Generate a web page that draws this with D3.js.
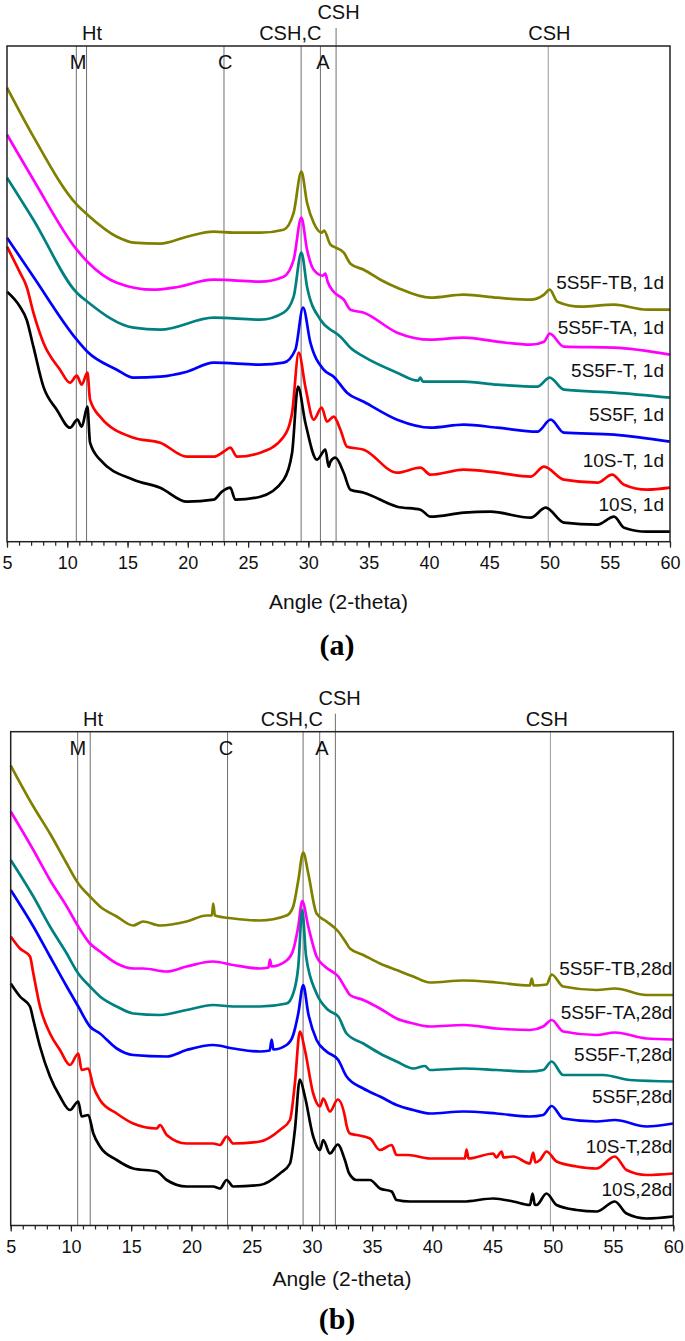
<!DOCTYPE html>
<html><head><meta charset="utf-8">
<script src="https://cdn.jsdelivr.net/npm/d3@7"></script>
<style>body{margin:0;background:#fff}svg text{font-family:"Liberation Sans",Arial,sans-serif}</style>
</head><body>
<svg id="chart" width="685" height="1341"></svg>
<script>
// ---------------- DATA ----------------
const xTicksMajor = [5,10,15,20,25,30,35,40,45,50,55,60];
const xTicksMinor = d3.range(5, 61, 1);
const xTitle = "Angle (2-theta)";
const seriesColors = ["#000000","#ff0000","#0000ff","#008080","#ff00ff","#808000"];
const namesA = ["10S, 1d","10S-T, 1d","5S5F, 1d","5S5F-T, 1d","5S5F-TA, 1d","5S5F-TB, 1d"];
const namesB = ["10S,28d","10S-T,28d","5S5F,28d","5S5F-T,28d","5S5F-TA,28d","5S5F-TB,28d"];
const phaseNames = ["M","Ht","C","CSH,C","A","CSH","CSH"];
const phaseLinesA = [10.75,11.6,23.0,29.4,31.0,32.3,49.9];
const phaseLinesB = [10.56,11.6,23.0,29.27,30.65,31.95,49.8];
const phaseLabelXA = [10.9,12.06,23.1,28.5,31.2,32.5,50.0];
const phaseLabelXB = [10.58,11.83,22.87,28.34,30.84,32.3,49.5];
const phaseRow = ["in","mid","in","mid","in","top","mid"];

// Panel (a): 1 day, intensity (a.u.)
const a_10S = [[5,250],[6.08,235],[6.63,222],[7.19,195],[8.02,155],[9.13,132],[10.23,114],[10.84,122],[11.2,115],[11.67,135],[11.89,99],[12.72,82],[15.49,62],[17.71,54],[19.93,40],[22.14,42],[22.83,50],[23.52,54],[23.94,42],[26.01,45],[27.95,62],[28.65,89],[29.14,155],[29.75,119],[30.72,82],[31.41,92],[31.69,75],[31.83,80],[32.24,84],[32.93,69],[33.49,52],[34.6,49],[37.37,35],[39.3,32],[40.14,25],[42.9,29],[45.1,30],[48.44,24],[49.69,34],[51.2,19],[53.98,17],[55.36,25],[56.19,14],[58.1,10],[60,10]];
const a_10ST = [[5,295],[6.08,269],[6.63,255],[7.19,229],[8.02,199],[9.4,172],[10.23,159],[10.79,166],[11.2,157],[11.67,169],[11.89,142],[12.72,125],[15.49,104],[17.71,99],[19.93,85],[22.14,85],[22.97,90],[23.52,94],[24.08,85],[26.01,89],[27.95,105],[28.65,129],[29.2,189],[29.75,155],[30.44,122],[31.1,134],[31.55,120],[32.1,125],[32.66,112],[33.21,95],[34.6,92],[37.37,69],[39.3,74],[40.14,67],[42.9,72],[45.67,69],[48.44,65],[49.55,75],[51.2,62],[53.98,59],[55.2,67],[56.19,57],[58.1,52],[60,54]];
const a_5S5F = [[5,304],[7.19,265],[10.79,202],[11.67,190],[14.11,172],[15.49,164],[17.71,165],[19.93,170],[22.14,179],[26.01,177],[27.95,179],[28.92,192],[29.56,234],[30.17,199],[31.27,172],[32.1,165],[33.21,149],[34.6,140],[37.37,122],[40.14,114],[42.9,117],[45.67,114],[49.0,110],[50.1,122],[51.2,109],[55.36,107],[60,100]];
const a_5S5FT = [[5,364],[7.19,322],[10.79,249],[11.67,240],[15.49,214],[17.71,212],[22.14,224],[26.01,222],[27.95,229],[28.78,245],[29.42,289],[29.89,255],[31.0,222],[31.83,212],[32.1,210],[32.66,205],[33.49,194],[34.6,185],[37.37,169],[39.1,161],[39.3,164],[39.5,160],[42.9,160],[45.67,157],[49.0,155],[50.02,164],[51.2,152],[55.36,149],[60,144]];
const a_5S5FTA = [[5,407],[7.19,362],[10.79,292],[11.67,280],[14.11,259],[17.15,252],[18.81,254],[22.14,262],[26.01,260],[27.95,265],[28.78,282],[29.42,324],[29.89,292],[30.44,272],[31.2,266],[31.41,268],[31.6,260],[32.1,250],[32.94,242],[33.49,232],[34.6,229],[37.37,209],[40.14,202],[42.9,204],[45.67,200],[48.44,197],[49.55,200],[50.02,208],[51.2,195],[55.36,194],[60,187]];
const a_5S5FTB = [[5,454],[7.19,405],[10.79,337],[11.67,327],[14.11,305],[15.49,299],[17.71,298],[19.93,305],[22.14,310],[23.8,309],[26.01,309],[27.95,312],[28.78,329],[29.42,370],[29.89,339],[30.44,319],[31.1,309],[31.3,311],[31.83,297],[32.1,295],[32.94,289],[33.49,278],[34.6,272],[35.98,262],[37.37,254],[40.14,244],[42.9,247],[45.67,244],[48.44,242],[49.55,247],[50.02,252],[50.66,240],[52.6,235],[55.36,237],[58.1,232],[60,232]];

// Panel (b): 28 days, intensity (a.u.)
const b_10S = [[5,242],[5.77,229],[6.6,219],[6.88,205.5],[7.43,179],[8.26,149],[9.09,129],[9.92,115.5],[10.61,124],[10.89,109],[11.44,110.5],[11.86,92],[12.41,79],[13.8,65.5],[15.17,57],[17.12,54],[17.95,45.5],[19.6,39],[21.81,39],[22.37,37],[22.93,45.5],[23.47,39],[25.69,40.5],[27.35,52],[28.18,62],[28.59,95.5],[29.0,146],[29.42,129],[30.11,89],[30.67,75.5],[30.94,85.5],[31.5,72],[32.15,81],[32.74,65.5],[33.1,52],[33.71,45.5],[34.82,45.5],[35.65,37],[36.62,34],[37.03,25.5],[38.14,24],[39.8,24],[42.57,24],[45.06,27],[46.71,24],[48.1,20.5],[48.32,32],[48.5,21],[48.65,20.5],[49.48,32],[50.31,20.5],[51.97,15.5],[53.63,14],[55.15,24],[56.12,12],[57.78,7],[60,9]];
const b_10ST = [[5,289],[5.77,277],[6.6,269],[6.88,252],[7.43,219],[8.26,192],[9.09,175.5],[9.92,160.5],[10.61,172],[10.89,155.5],[11.44,157],[11.86,139],[12.41,125.5],[13.8,112],[15.17,102],[17.12,97],[17.39,100.5],[17.95,90.5],[19.6,82],[21.81,82],[22.37,80.5],[22.93,89],[23.47,82],[25.69,84],[27.35,95.5],[28.18,105.5],[28.59,142],[29.0,194],[29.42,175.5],[30.11,132],[30.67,119],[30.94,127],[31.5,114],[32.15,126],[32.74,109],[32.88,100],[33.16,92],[33.71,90.5],[34.82,87],[35.65,75.5],[36.62,80.5],[37.03,70.5],[38.0,70.5],[39.8,67],[42.7,67],[42.84,76],[43.0,67],[45.06,72],[45.3,68],[45.75,74],[45.9,68],[46.71,69],[48.1,62],[48.37,73],[48.55,63],[48.93,65.5],[49.48,74],[50.31,64],[51.97,59],[53.63,57],[55.15,69],[56.12,55.5],[57.78,50.5],[60,52]];
const b_5S5F = [[5,335.5],[6.88,299],[8.26,269],[9.65,239],[10.61,219],[11.58,199],[12.41,192],[13.8,177],[15.17,170.5],[17.95,169],[19.6,175.5],[21.81,180.5],[23.47,177],[25.69,174],[26.5,175],[26.66,186],[26.8,176],[27.9,180.5],[28.45,190.5],[28.87,212],[29.28,240.5],[29.7,212],[30.39,185.5],[31.22,174],[32.19,165.5],[32.88,149],[34.27,137],[35.65,129],[37.03,120.5],[38.42,115.5],[39.8,112],[42.57,114],[45.33,112],[48.1,109],[49.2,110.5],[49.9,119.5],[50.86,107],[53.63,104],[55.15,105.5],[57.78,99],[60,102]];
const b_5S5FT = [[5,365.5],[6.88,329],[8.26,299],[9.65,272],[10.61,252],[11.58,239],[12.41,229],[13.8,219],[15.17,212],[17.39,210.5],[19.6,215.5],[21.81,220.5],[23.47,219],[25.69,219],[27.9,222],[28.45,232],[28.87,259],[29.2,315.5],[29.52,269],[30.39,232],[31.36,215.5],[32.19,209],[32.88,192],[34.27,182],[35.65,172],[37.03,164],[38.42,157],[39.38,159.5],[39.8,155.5],[42.57,157],[45.33,155.5],[48.1,154],[49.2,155.5],[49.9,164],[50.86,150.5],[54.18,150.5],[56.4,145.5],[60,144]];
const b_5S5FTA = [[5,414],[6.88,375.5],[8.26,345.5],[9.65,319],[10.61,299],[11.58,282],[12.41,274],[13.8,262],[15.17,257],[16.0,257],[17.95,254],[19.6,259],[21.81,264],[23.47,260.5],[25.69,257],[26.4,258],[26.52,266],[26.65,259],[27.9,265],[28.45,275.5],[28.87,299],[29.2,324.5],[29.7,299],[30.39,269],[31.08,259],[32.19,249],[32.88,235.5],[33.16,230.5],[34.27,225.5],[35.65,217],[37.03,207],[38.42,202],[39.8,199],[42.57,200.5],[45.33,197],[48.1,195.5],[49.2,199],[49.9,205.5],[50.86,194],[53.63,190.5],[55.15,193],[57.78,187],[60,186]];
const b_5S5FTB = [[5,460],[6.88,419],[8.26,392],[9.65,362],[10.61,342],[11.58,329],[12.41,319],[13.8,309],[15.17,300],[16.0,304],[17.39,300],[19.6,304],[21.26,310],[21.7,310],[21.81,322],[21.95,310],[23.47,307],[25.69,305],[27.9,310],[28.45,319],[28.87,345],[29.28,373],[29.7,352],[30.39,312],[31.22,304],[32.19,294],[32.88,282],[33.16,277],[34.27,270.5],[35.65,262],[37.03,255.5],[38.42,249],[39.8,243],[42.57,245],[45.33,243],[48.1,240],[48.25,247],[48.4,240],[49.48,241],[49.9,251],[50.86,239],[53.63,235.5],[55.15,237],[57.78,230.5],[60,230.5]];

const seriesA = [a_10S, a_10ST, a_5S5F, a_5S5FT, a_5S5FTA, a_5S5FTB];
const seriesB = [b_10S, b_10ST, b_5S5F, b_5S5FT, b_5S5FTA, b_5S5FTB];

// ---------------- DRAW ----------------
const svg = d3.select("#chart");

function drawPanel(cfg){
  const g = svg.append("g");
  const x = d3.scaleLinear().domain([5,60]).range([cfg.left, cfg.right]);
  const y = d3.scaleLinear().domain([0, cfg.yMax]).range([cfg.bottom, cfg.top]);

  // phase reference lines
  cfg.lines.forEach((v,i)=>{
    const ext = phaseRow[i]==="top" ? 18 : 0;
    g.append("line").attr("x1",x(v)).attr("x2",x(v))
      .attr("y1",cfg.bottom).attr("y2",cfg.top-ext)
      .attr("stroke", i===6 ? "#9a9a9a" : "#6e6e6e").attr("stroke-width",1);
  });

  // traces (top first so lower ones on top)
  const line = d3.line().x(d=>x(d[0])).y(d=>y(d[1])).curve(d3.curveMonotoneX);
  for(let i=cfg.series.length-1;i>=0;i--){
    g.append("path").datum(cfg.series[i]).attr("d",line)
      .attr("fill","none").attr("stroke",seriesColors[i])
      .attr("stroke-width",2.7).attr("stroke-linejoin","round");
  }

  // frame
  g.append("rect").attr("x",cfg.left).attr("y",cfg.top)
    .attr("width",cfg.right-cfg.left).attr("height",cfg.bottom-cfg.top)
    .attr("fill","none").attr("stroke","#222").attr("stroke-width",1.5);

  // axis
  const minor = g.append("g").attr("transform",`translate(0,${cfg.bottom})`)
    .call(d3.axisBottom(x).tickValues(xTicksMinor).tickSize(4).tickFormat(""));
  minor.select(".domain").remove();
  minor.selectAll("line").attr("stroke","#222").attr("stroke-width",1.2);
  const major = g.append("g").attr("transform",`translate(0,${cfg.bottom})`)
    .call(d3.axisBottom(x).tickValues(xTicksMajor).tickSize(6).tickPadding(9).tickFormat(d3.format("d")));
  major.select(".domain").remove();
  major.selectAll("line").attr("stroke","#222").attr("stroke-width",1.2);
  major.selectAll("text").attr("font-size",18).attr("fill","#111")
    .attr("font-family","'Liberation Sans',Arial,sans-serif");

  // axis title
  g.append("text").attr("x",(cfg.left+cfg.right)/2).attr("y",cfg.bottom+cfg.titleDy)
    .attr("dy","0.35em").attr("text-anchor","middle").attr("font-size",21).attr("fill","#111")
    .text(xTitle);

  // panel label
  g.append("text").attr("x",337).attr("y",cfg.bottom+cfg.panelDy)
    .attr("dy","0.35em").attr("text-anchor","middle")
    .style("font-family","'Liberation Serif','Times New Roman',serif")
    .attr("font-weight","bold").attr("font-size",30).attr("fill","#000")
    .text(cfg.panelLabel);

  // phase labels
  phaseNames.forEach((n,i)=>{
    const dy = phaseRow[i]==="top" ? -34 : phaseRow[i]==="mid" ? -13 : 16;
    g.append("text").attr("x",x(cfg.labelX[i])).attr("y",cfg.top+dy)
      .attr("dy","0.36em").attr("text-anchor","middle").attr("font-size",20).attr("fill","#111")
      .text(n);
  });

  // series labels
  cfg.series.forEach((s,i)=>{
    const last = s[s.length-1][1];
    g.append("text").attr("x",cfg.right-cfg.labelInset).attr("y",y(last)-27)
      .attr("dy","0.35em").attr("text-anchor","end").attr("font-size",19).attr("fill","#111")
      .text(cfg.names[i]);
  });
}

drawPanel({left:7,right:670,top:46,bottom:541.7,yMax:495.7,series:seriesA,names:namesA,
  lines:phaseLinesA,labelX:phaseLabelXA,titleDy:60,panelDy:103,panelLabel:"(a)",labelInset:6});
drawPanel({left:10.7,right:673.3,top:731.7,bottom:1225.5,yMax:493.8,series:seriesB,names:namesB,
  lines:phaseLinesB,labelX:phaseLabelXB,titleDy:53,panelDy:93,panelLabel:"(b)",labelInset:1});
</script>
</body></html>
